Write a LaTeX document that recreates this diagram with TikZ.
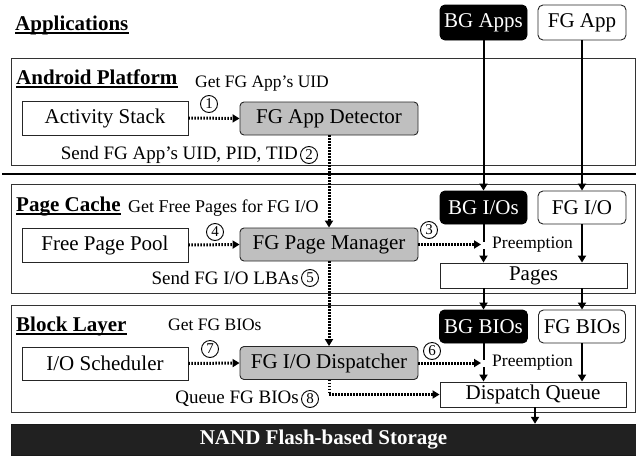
\documentclass[tikz,border=0pt]{standalone}
\usepackage{fontspec}
\setmainfont{Liberation Serif}
\usetikzlibrary{arrows.meta}
\begin{document}
\begin{tikzpicture}[x=1pt,y=-1pt,
  boxtxt/.style={font=\fontsize{21}{24}\selectfont, inner sep=0pt},
  lbl/.style={font=\fontsize{17.5}{20}\selectfont, inner sep=0pt},
  lblb/.style={font=\fontsize{19}{21}\selectfont, inner sep=0pt},
  ttl/.style={font=\fontsize{21}{24}\selectfont\bfseries, inner sep=0pt, anchor=base west},
  uline/.style={line width=1.3pt},
  layer/.style={draw=black!80, line width=0.9pt, inner sep=0pt},
  plainbox/.style={draw=black!85, line width=0.9pt, fill=white, boxtxt},
  fgbox/.style={draw=black!85, line width=0.9pt, fill=black!25, rounded corners=4pt, boxtxt},
  bgbox/.style={draw=black, line width=0.9pt, fill=black, text=white, rounded corners=5pt, boxtxt},
  appbox/.style={draw=black!85, line width=0.9pt, fill=white, rounded corners=5pt, boxtxt},
  solidarr/.style={line width=2pt, -{Triangle[length=7pt,width=8pt]}},
  solidln/.style={line width=2pt},
  dotarr/.style={line width=3pt, dash pattern=on 1.5pt off 1.5pt, -{Triangle[length=7pt,width=8pt]}},
  num/.style={circle, draw, line width=0.9pt, inner sep=0pt, minimum size=17pt, font=\fontsize{15}{16}\selectfont}
]
\useasboundingbox (0,0) rectangle (636,455);

% layers
\node[layer, minimum width=624pt, minimum height=107pt] (android) at (323,111.5) {};
\node[layer, minimum width=624pt, minimum height=109pt] (pagecache) at (323,238.5) {};
\node[layer, minimum width=624pt, minimum height=107pt] (blocklayer) at (323,358.5) {};
\node[draw=black!90, fill=black!87, minimum width=625pt, minimum height=31pt, inner sep=0pt,
      text=white, font=\fontsize{21}{23}\selectfont\bfseries] (nand) at (323.5,439.5) {NAND Flash-based Storage};
\draw[line width=2pt] (2,174) -- (636,174);

% titles
\node[ttl] (tapps) at (15,30) {Applications};
\node[ttl] (tandroid) at (16,84) {Android Platform};
\node[ttl] (tpage) at (16,211) {Page Cache};
\node[ttl] (tblock) at (16,331) {Block Layer};
\draw[uline] ([yshift=-3pt]tapps.base west) -- ([yshift=-3pt]tapps.base east);
\draw[uline] ([yshift=-3pt]tandroid.base west) -- ([yshift=-3pt]tandroid.base east);
\draw[uline] ([yshift=-3pt]tpage.base west) -- ([yshift=-3pt]tpage.base east);
\draw[uline] ([yshift=-3pt]tblock.base west) -- ([yshift=-3pt]tblock.base east);

% boxes
\node[bgbox, minimum width=87pt, minimum height=35pt] (bgapps) at (483.5,22.5) {BG Apps};
\node[appbox, minimum width=88pt, minimum height=35pt] (fgapp) at (582,22.5) {FG App};

\node[plainbox, minimum width=166pt, minimum height=34pt] (actstack) at (105,118) {Activity Stack};
\node[fgbox, minimum width=178pt, minimum height=33pt] (detector) at (329,118.5) {FG App Detector};

\node[plainbox, minimum width=166pt, minimum height=34pt] (pool) at (105,245) {Free Page Pool};
\node[fgbox, minimum width=178pt, minimum height=33pt] (manager) at (329,244.5) {FG Page Manager};
\node[bgbox, minimum width=87pt, minimum height=33pt] (bgios) at (483.5,207.5) {BG I/Os};
\node[appbox, minimum width=88pt, minimum height=33pt] (fgio) at (582,207.5) {FG I/O};
\node[plainbox, minimum width=187pt, minimum height=25pt] (pages) at (533.5,275.5) {Pages};

\node[plainbox, minimum width=166pt, minimum height=33pt] (sched) at (105,363.5) {I/O Scheduler};
\node[fgbox, minimum width=178pt, minimum height=33pt] (dispatcher) at (329,363) {FG I/O Dispatcher};
\node[bgbox, minimum width=88pt, minimum height=33pt] (bgbios) at (483.5,326.5) {BG BIOs};
\node[appbox, minimum width=87pt, minimum height=33pt] (fgbios) at (582,326.5) {FG BIOs};
\node[plainbox, minimum width=186pt, minimum height=25pt] (dq) at (533,394.5) {Dispatch Queue};

% labels
\node[lbl, anchor=west] (l1) at (195,84) {Get FG App's UID};
\node[num] (n1) at (209,104) {1};
\node[lblb, anchor=east] (l2) at (298,155) {Send FG App's UID, PID, TID};
\node[num] (n2) at (309,155) {2};
\node[lbl, anchor=west, font=\fontsize{18}{20}\selectfont] (l4) at (128,208) {Get Free Pages for FG I/O};
\node[num] (n4) at (215,232) {4};
\node[num] (n3) at (429,230) {3};
\node[lbl, anchor=west] (pre1) at (492,245) {Preemption};
\node[lblb, anchor=east] (l5) at (299,278) {Send FG I/O LBAs};
\node[num] (n5) at (310,278) {5};
\node[lbl, anchor=west] (l7) at (168,325) {Get FG BIOs};
\node[num] (n7) at (210,349) {7};
\node[num] (n6) at (432,351) {6};
\node[lbl, anchor=west] (pre2) at (492,363) {Preemption};
\node[lblb, anchor=east] (l8) at (299,399) {Queue FG BIOs};
\node[num] (n8) at (310,399) {8};

% coordinates
\coordinate (bgend1) at (483.5,242);
\coordinate (bgbeg1) at (483.5,249);
\coordinate (tip1) at (481,244.5);
\coordinate (bgend2) at (483.5,360);
\coordinate (bgbeg2) at (483.5,367);
\coordinate (tip2) at (481,363);
\coordinate (dqs) at (535,407);

% solid arrows
\draw[solidarr] (bgapps.south) -- (bgios.north);
\draw[solidarr] (fgapp.south) -- (fgio.north);
\draw[solidln] (bgios.south) -- (bgend1);
\draw[solidarr] (bgbeg1) -- (bgbeg1 |- pages.north);
\draw[solidarr] (fgio.south) -- (fgio.south |- pages.north);
\draw[solidarr] (pages.south -| bgbios.north) -- (bgbios.north);
\draw[solidarr] (pages.south -| fgbios.north) -- (fgbios.north);
\draw[solidln] (bgbios.south) -- (bgend2);
\draw[solidarr] (bgbeg2) -- (bgbeg2 |- dq.north);
\draw[solidarr] (fgbios.south) -- (fgbios.south |- dq.north);
\draw[solidarr] (dqs) -- (dqs |- nand.north);

% dotted arrows
\draw[dotarr] (actstack.east) -- (detector.west);
\draw[dotarr] (pool.east) -- (manager.west);
\draw[dotarr] (sched.east) -- (dispatcher.west);
\draw[dotarr] (detector.south) -- (manager.north);
\draw[dotarr] (manager.south) -- (dispatcher.north);
\draw[dotarr] (manager.east) -- (tip1);
\draw[dotarr] (dispatcher.east) -- (tip2);
\draw[dotarr] (dispatcher.south) |- (dq.west);
\end{tikzpicture}
\end{document}
